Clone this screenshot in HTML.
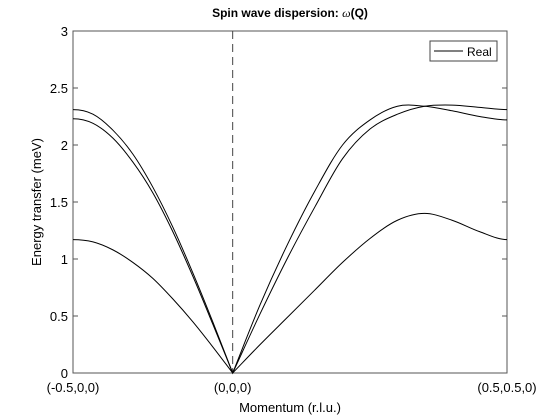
<!DOCTYPE html>
<html><head><meta charset="utf-8"><style>
html,body{margin:0;padding:0;background:#fff;width:560px;height:420px;overflow:hidden}
svg{display:block;font-family:"Liberation Sans",sans-serif}
</style></head><body>
<svg id="chart" width="560" height="420" viewBox="0 0 560 420">
<rect x="0" y="0" width="560" height="420" fill="#fff"/>
<text x="290" y="17" font-size="12" font-weight="bold" text-anchor="middle" fill="#000">Spin wave dispersion: <tspan font-style="italic" font-weight="normal" font-family="Liberation Serif,serif">ω</tspan>(Q)</text>
<g id="plot"></g>
<text x="290" y="412" font-size="13" text-anchor="middle" fill="#000">Momentum (r.l.u.)</text>
<text transform="translate(41,202) rotate(-90)" font-size="13" text-anchor="middle" fill="#000">Energy transfer (meV)</text>
</svg>
<script>
const xTickLabels = ["(-0.5,0,0)", "(0,0,0)", "(0.5,0.5,0)"];
const xTickValues = [0, 0.5, 1.359];
const yTickValues = [0, 0.5, 1, 1.5, 2, 2.5, 3];
const xValues = [0, 0.0625, 0.125, 0.1875, 0.25, 0.3125, 0.375, 0.4375, 0.5,
  0.586, 0.672, 0.758, 0.844, 0.930, 1.016, 1.101, 1.187, 1.273, 1.359];
const seriesA = [2.31, 2.27, 2.13, 1.92, 1.63, 1.28, 0.88, 0.45, 0,
  0.52, 1.01, 1.46, 1.88, 2.14, 2.27, 2.34, 2.35, 2.33, 2.31];
const seriesB = [2.23, 2.19, 2.06, 1.85, 1.58, 1.24, 0.85, 0.43, 0,
  0.6, 1.13, 1.6, 2.0, 2.22, 2.34, 2.34, 2.30, 2.25, 2.22];
const seriesC = [1.17, 1.15, 1.08, 0.97, 0.83, 0.65, 0.45, 0.23, 0,
  0.25, 0.49, 0.73, 0.97, 1.18, 1.34, 1.40, 1.34, 1.24, 1.17];
const legendLabels = ["Real"];
const splitIndex = 8;

const NS = "http://www.w3.org/2000/svg";
const L = 73, R = 507, T = 31, B = 373;
const xMax = 1.359, yMax = 3;
const xs = v => L + (R - L) * v / xMax;
const ys = v => B - (B - T) * v / yMax;
const plot = document.getElementById("plot");
function mk(tag, attrs, parent) {
  const e = document.createElementNS(NS, tag);
  for (const k in attrs) e.setAttribute(k, attrs[k]);
  (parent || plot).appendChild(e);
  return e;
}
const box = mk("rect", {x: L, y: T, width: R - L, height: B - T, fill: "none", stroke: "#555", "stroke-width": 1});


yTickValues.forEach(v => {
  const y = ys(v);
  const t1 = mk("line", {x1: L, x2: L + 5, y1: y, y2: y, stroke: "#555"});
  
  
  const t2 = mk("line", {x1: R, x2: R - 5, y1: y, y2: y, stroke: "#555"});
  
  
  const lb = mk("text", {x: L - 5, y: y + 5, "font-size": 13, "text-anchor": "end", fill: "#000"});
  lb.textContent = String(v);
  
  
});
xTickValues.forEach((v, i) => {
  const x = xs(v);
  const t = mk("line", {x1: x, x2: x, y1: B, y2: B - 5, stroke: "#555"});
  
  
  const lb = mk("text", {x: x, y: B + 19, "font-size": 13, "text-anchor": "middle", fill: "#000"});
  lb.textContent = xTickLabels[i];
  
  
});
const dv = mk("line", {x1: xs(0.5), x2: xs(0.5), y1: T, y2: B, stroke: "#444", "stroke-dasharray": "8,5", "stroke-width": 1});



function splinePart(p, flatStart, flatEnd) {
  let d = "";
  const n = p.length;
  for (let i = 0; i < n - 1; i++) {
    const p1 = p[i], p2 = p[i + 1];
    let p0, p3;
    if (i === 0) p0 = flatStart ? [2 * p1[0] - p2[0], p2[1]] : [2 * p1[0] - p2[0], 2 * p1[1] - p2[1]];
    else p0 = p[i - 1];
    if (i + 2 >= n) p3 = flatEnd ? [2 * p2[0] - p1[0], p1[1]] : [2 * p2[0] - p1[0], 2 * p2[1] - p1[1]];
    else p3 = p[i + 2];
    const c1 = [p1[0] + (p2[0] - p0[0]) / 6, p1[1] + (p2[1] - p0[1]) / 6];
    const c2 = [p2[0] - (p3[0] - p1[0]) / 6, p2[1] - (p3[1] - p1[1]) / 6];
    d += "C" + c1.join(",") + " " + c2.join(",") + " " + p2.join(",");
  }
  return d;
}
function pathFor(vals) {
  const p = xValues.map((x, i) => [xs(x), ys(vals[i])]);
  const left = p.slice(0, splitIndex + 1), right = p.slice(splitIndex);
  return "M" + left[0].join(",") + splinePart(left, true, false) + splinePart(right, false, true);
}
[["mode-a", seriesA], ["mode-b", seriesB], ["mode-c", seriesC]].forEach(([n, s]) => {
  const pth = mk("path", {d: pathFor(s), fill: "none", stroke: "#000", "stroke-width": 1});
  
  
});
const lg = mk("g", {});


const lr = mk("rect", {x: 430, y: 41, width: 67, height: 20, fill: "#fff", stroke: "#444", "stroke-width": 1}, lg);


const ll = mk("line", {x1: 434, x2: 463, y1: 51, y2: 51, stroke: "#000"}, lg);


const lt = mk("text", {x: 467, y: 56, "font-size": 12, fill: "#000"}, lg);
lt.textContent = legendLabels[0];


</script>
</body></html>
